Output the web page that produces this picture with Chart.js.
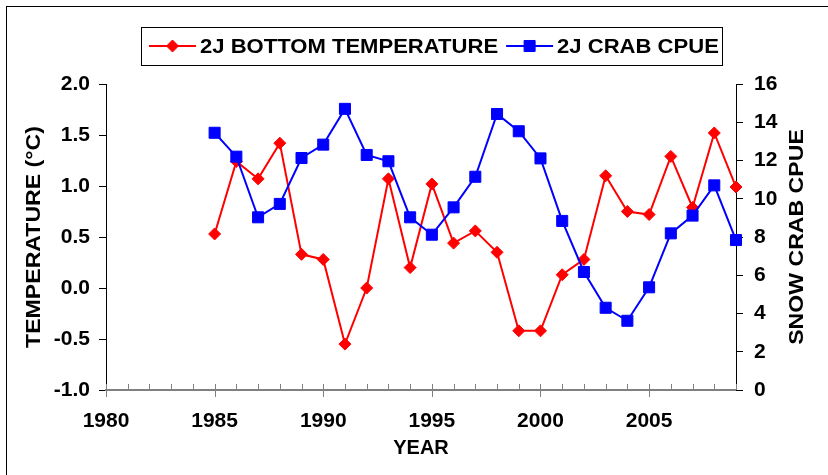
<!DOCTYPE html>
<html>
<head>
<meta charset="utf-8">
<script src="https://cdn.jsdelivr.net/npm/chart.js@4.4.1/dist/chart.umd.min.js"></script>
<style>
  html, body { margin: 0; padding: 0; background: #fff; }
</style>
</head>
<body>
<canvas id="myChart" width="828" height="475"></canvas>
<script>
const years = [1985, 1986, 1987, 1988, 1989, 1990, 1991, 1992, 1993, 1994, 1995, 1996, 1997,
               1998, 1999, 2000, 2001, 2002, 2003, 2004, 2005, 2006, 2007, 2008, 2009];
const bottomTemp = [0.53, 1.24, 1.07, 1.42, 0.33, 0.28, -0.55, 0.00, 1.07, 0.20, 1.02, 0.44, 0.56,
                    0.35, -0.42, -0.42, 0.13, 0.28, 1.10, 0.75, 0.72, 1.29, 0.79, 1.52, 0.99];
const crabCpue = [13.45, 12.2, 9.03, 9.73, 12.13, 12.83, 14.7, 12.29, 11.96, 9.03, 8.12, 9.55, 11.15,
                  14.43, 13.53, 12.11, 8.84, 6.17, 4.3, 3.62, 5.37, 8.19, 9.12, 10.7, 7.84];
const yearTicks = [1980, 1985, 1990, 1995, 2000, 2005];
const tempTicks = [-1.0, -0.5, 0.0, 0.5, 1.0, 1.5, 2.0];
const cpueTicks = [0, 2, 4, 6, 8, 10, 12, 14, 16];

const FONT = '"Liberation Sans", Arial, Helvetica, sans-serif';
const ctx = document.getElementById('myChart').getContext('2d');

// text a bit wider than the font gives, like the original
function wideText(c, text, x, y, sx) {
    c.save();
    c.translate(x, y);
    c.scale(sx, 1);
    c.fillText(text, 0, 0);
    c.restore();
}

// frame, legend, axis titles and the year tick marks
const decorations = {
    id: 'decorations',
    afterDraw(chart) {
        const c = chart.ctx;
        const area = chart.chartArea;
        c.save();

        // outer frame
        c.strokeStyle = '#000';
        c.lineWidth = 1;
        c.strokeRect(6.5, 6.5, 840, 490);

        // year ticks: minor inside, major crossing
        const xs = chart.scales.x;
        c.strokeStyle = '#808080';
        c.lineWidth = 1;
        for (let yr = xs.min; yr <= xs.max; yr++) {
            const px = Math.round(xs.getPixelForValue(yr)) + 0.5;
            const major = yr % 5 === 0;
            c.beginPath();
            c.moveTo(px, area.bottom - 6);
            c.lineTo(px, major ? area.bottom + 7 : area.bottom);
            c.stroke();
        }

        // legend
        c.strokeStyle = '#000';
        c.strokeRect(141.5, 27.5, 581, 38);
        c.font = 'bold 21px ' + FONT;
        c.textBaseline = 'middle';
        c.textAlign = 'left';
        const sx = 1.05;
        let lx = 149;
        const ly = 46;
        chart.data.datasets.forEach(ds => {
            c.strokeStyle = ds.borderColor;
            c.fillStyle = ds.backgroundColor;
            c.lineWidth = 2;
            c.beginPath();
            c.moveTo(lx, ly);
            c.lineTo(lx + 47, ly);
            c.stroke();
            c.lineWidth = 1;
            Chart.helpers.drawPoint(c, {
                pointStyle: ds.pointStyle, radius: ds.pointRadius, rotation: 0, borderWidth: 1
            }, lx + 23.5, ly);
            c.fillStyle = '#000';
            wideText(c, ds.label, lx + 51, ly + 1, sx);
            lx += 51 + c.measureText(ds.label).width * sx + 8;
        });

        // axis titles
        c.fillStyle = '#000';
        c.textAlign = 'center';
        c.font = 'bold 20px ' + FONT;
        c.fillText('YEAR', (area.left + area.right) / 2, 448);

        c.font = 'bold 21px ' + FONT;
        const midY = (area.top + area.bottom) / 2;
        c.save();
        c.translate(34, midY);
        c.rotate(-Math.PI / 2);
        wideText(c, 'TEMPERATURE (\u00B0C)', 0, 0, 1.1);
        c.restore();

        c.save();
        c.translate(797, midY);
        c.rotate(-Math.PI / 2);
        wideText(c, 'SNOW CRAB CPUE', 0, 0, 1.1);
        c.restore();

        c.restore();
    }
};

const tickFont = { family: FONT, size: 21, weight: 'bold' };

new Chart(ctx, {
    type: 'line',
    data: {
        datasets: [{
            label: '2J BOTTOM TEMPERATURE',
            data: years.map((y, i) => ({ x: y, y: bottomTemp[i] })),
            yAxisID: 'y',
            borderColor: '#FF0000',
            backgroundColor: '#FF0000',
            borderWidth: 2,
            pointStyle: 'rectRot',
            pointRadius: 6,
            pointBorderWidth: 1,
            tension: 0,
            clip: false,
            order: 2
        }, {
            label: '2J CRAB CPUE',
            data: years.map((y, i) => ({ x: y, y: crabCpue[i] })),
            yAxisID: 'y1',
            borderColor: '#0000FF',
            backgroundColor: '#0000FF',
            borderWidth: 2,
            pointStyle: 'rect',
            pointRadius: 7.8,
            pointBorderWidth: 1,
            tension: 0,
            clip: false,
            order: 1
        }]
    },
    options: {
        responsive: false,
        animation: false,
        layout: { padding: { top: 84 } },
        plugins: {
            legend: { display: false },
            tooltip: { enabled: false }
        },
        scales: {
            x: {
                type: 'linear',
                min: 1980,
                max: 2009,
                afterBuildTicks: s => { s.ticks = yearTicks.map(v => ({ value: v })); },
                afterFit: s => { s.height = 85; },
                grid: { display: false, drawTicks: false },
                border: { display: true, color: '#808080', width: 2 },
                ticks: {
                    padding: 19,
                    maxRotation: 0,
                    autoSkip: false,
                    color: '#000',
                    font: tickFont,
                    callback: v => String(v)
                }
            },
            y: {
                position: 'left',
                min: -1,
                max: 2,
                afterBuildTicks: s => { s.ticks = tempTicks.map(v => ({ value: v })); },
                afterFit: s => { s.width = 106; },
                grid: { drawOnChartArea: false, drawTicks: true, tickLength: 7, color: '#000' },
                border: { color: '#000', width: 1 },
                ticks: {
                    padding: 9,
                    color: '#000',
                    font: tickFont,
                    callback: v => v.toFixed(1)
                }
            },
            y1: {
                position: 'right',
                min: 0,
                max: 16,
                afterBuildTicks: s => { s.ticks = cpueTicks.map(v => ({ value: v })); },
                afterFit: s => { s.width = 92; },
                grid: { drawOnChartArea: false, drawTicks: true, tickLength: 7, color: '#000' },
                border: { color: '#000', width: 1 },
                ticks: {
                    padding: 11,
                    color: '#000',
                    font: tickFont
                }
            }
        }
    },
    plugins: [decorations]
});
</script>
</body>
</html>
